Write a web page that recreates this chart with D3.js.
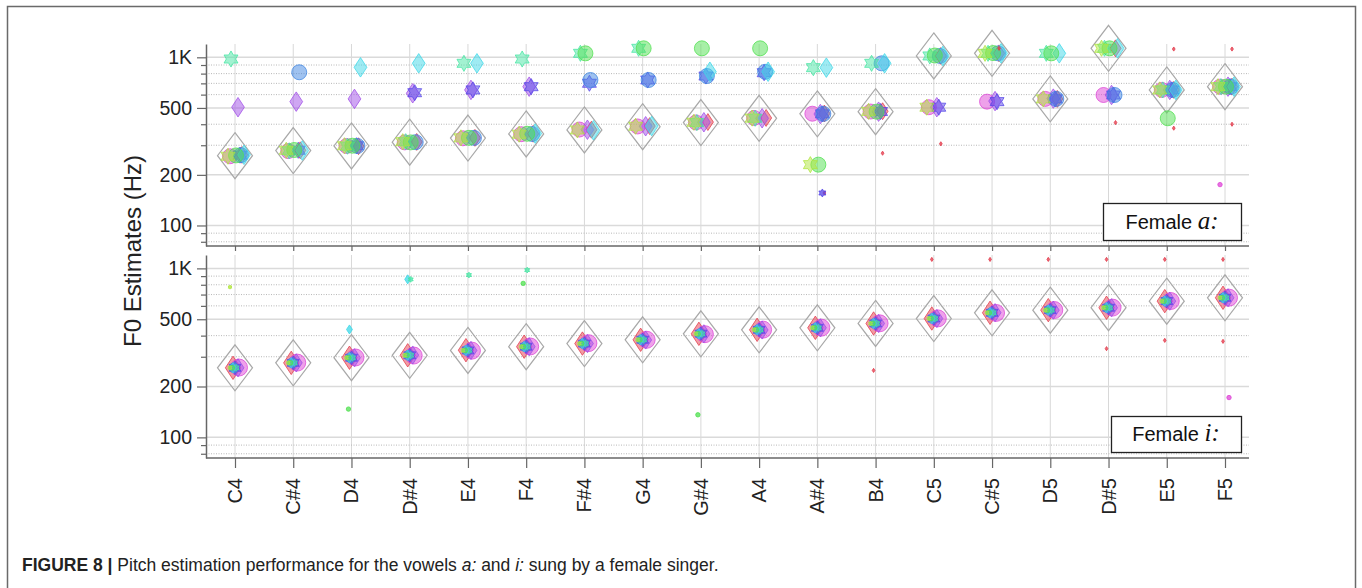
<!DOCTYPE html>
<html>
<head>
<meta charset="utf-8">
<script src="https://d3js.org/d3.v7.min.js"></script>
<style>
body{margin:0;background:#fff;}
svg{display:block;font-family:"Liberation Sans",Arial,sans-serif;}
</style>
</head>
<body>
<svg id="chart" width="1362" height="588"></svg>
<script>
// notes sung, one column each
var notes = ['C4','C#4','D4','D#4','E4','F4','F#4','G4','G#4','A4','A#4','B4','C5','C#5','D5','D#5','E5','F5'];

// reference pitch (grey diamonds), Hz
var refA = [260,279,297,313,331,350,370,387,409,434,461,475,1019,1056,566,1131,640,669];
var refI = [258,276,296,306,327,344,359,378,410,433,445,472,505,546,566,585,640,670];

// estimator names, draw order
var methods = ['red','magenta','purple','violet','blue','cyan','teal','green','yellowgreen'];

// vowel a: estimates per estimator (Hz)
var aRed     = [263,280,296,314,332,351,371,390,412,436,463,478,1019,1056,566,1131,640,669];
var aMagenta = [258,277,297,312,330,349,372,388,410,436,462,476,505,545,566,597,640,669];
var aPurple  = [505,545,566,611,640,669,371,389,411,434,460,475,505,549,568,597,640,669];
var aViolet  = [262,280,298,616,640,669,701,733,774,810,461,476,505,545,566,597,640,669];
var aBlue    = [262,815,297,313,332,350,733,733,774,820,461,921,1019,1056,566,597,640,669];
var aCyan    = [263,279,872,921,921,352,368,390,821,821,868,921,1019,1056,1056,1131,640,669];
var aTeal    = [977,278,296,315,921,977,1056,1131,409,434,868,921,1019,1056,1056,1131,640,669];
var aGreen   = [261,281,298,312,332,351,1056,1131,1131,1131,230,475,1025,1060,1056,1131,434,669];
var aYellow  = [258,280,298,315,332,349,370,389,411,435,230,477,505,1056,566,1131,640,669];

// vowel i: estimates per estimator (Hz)
var iRed     = [258,276,296,306,328,344,359,378,410,433,445,472,505,546,566,585,640,670];
var iMagenta = [259,277,297,305,326,345,361,378,408,434,446,473,506,545,567,586,641,671];
var iPurple  = [258,276,296,307,327,344,359,377,410,432,445,472,505,547,566,585,640,670];
var iViolet  = [258,276,296,306,327,344,359,378,411,433,445,472,505,546,566,585,641,670];
var iBlue    = [258,276,296,306,327,344,359,378,410,433,445,472,505,546,566,585,640,670];
var iCyan    = [258,276,296,306,327,344,359,378,410,433,445,472,505,546,566,585,640,670];
var iTeal    = [258,276,296,306,327,344,359,378,410,433,445,472,505,546,566,585,640,670];
var iGreen   = [258,276,296,306,327,344,359,378,410,433,445,472,505,546,566,585,640,670];
var iYellow  = [258,276,296,306,327,344,359,378,410,433,445,472,505,546,566,585,640,670];

// low confidence estimates [note, estimator, Hz]
var lowA = [['A#4','red',156],['A#4','violet',156],['B4','red',269],['C5','red',306],['C#5','red',1131],
	['D#5','red',409],['E5','red',1120],['E5','red',379],['F5','red',1120],['F5','red',400],['F5','magenta',175]];
var lowI = [['C4','yellowgreen',775],['D4','cyan',435],['D4','green',147],['D#4','cyan',861],['D#4','teal',861],
	['E4','teal',913],['F4','teal',977],['F4','green',815],['G#4','green',136],['B4','red',249],
	['C5','red',1130],['C#5','red',1130],['D5','red',1130],['D#5','red',1130],['E5','red',1130],['F5','red',1130],
	['D#5','red',335],['E5','red',375],['F5','red',370],['F5','magenta',172]];

var majorTicks = [100,200,500,1000];
var minorTicks = [80,90,300,400,600,700,800,900];

var estA = [aRed,aMagenta,aPurple,aViolet,aBlue,aCyan,aTeal,aGreen,aYellow];
var estI = [iRed,iMagenta,iPurple,iViolet,iBlue,iCyan,iTeal,iGreen,iYellow];

// styles
var colors = {red:'#e3394a',magenta:'#dd44d6',purple:'#a04ee8',violet:'#5546e8',blue:'#3f86e2',
	cyan:'#3ed8e8',teal:'#45e6a3',green:'#4fe04f',yellowgreen:'#b0e63c'};
var shapes = {red:'diamond',magenta:'circle',purple:'diamond',violet:'star',blue:'circle',
	cyan:'diamond',teal:'star',green:'circle',yellowgreen:'star'};
var lowSize = {red:1.6,magenta:2.2,purple:3,violet:3.5,blue:3,cyan:3.5,teal:2.5,green:2.2,yellowgreen:1.8};

var svg = d3.select('#chart');
var plotL = 206, plotR = 1249;
var x = d3.scalePoint().domain(notes).range([235,1225]);

function shapePath( type , r ){
	if( type == 'circle' ){
		return 'M'+r+',0A'+r+','+r+' 0 1 1 '+(-r)+',0A'+r+','+r+' 0 1 1 '+r+',0Z';
	}
	if( type == 'diamond' ){
		return 'M0,'+(-1.3*r)+'L'+(0.85*r)+',0L0,'+(1.3*r)+'L'+(-0.85*r)+',0Z';
	}
	// six pointed star
	var R = 1.15*r, pts = [];
	for( var k=0;k<12;k++){
		var a = -Math.PI/2 + k*Math.PI/6, rr = (k%2==0) ? R : R/Math.sqrt(3);
		pts.push([rr*Math.cos(a), rr*Math.sin(a)]);
	}
	return 'M'+pts.map(function(p){return p[0].toFixed(2)+','+p[1].toFixed(2);}).join('L')+'Z';
}

svg.append('rect')
	.attr('x',7.5).attr('y',6.5).attr('width',1348).attr('height',620)
	.attr('fill','none').attr('stroke','#6a6a6a').attr('stroke-width',1.5);

function drawPanel( opt ){
	var g = svg.append('g');
	var y = d3.scaleLog().domain([75.5,1200]).range([opt.bottom, opt.top]);

	// grid
	g.selectAll('.vgrid').data(notes).enter().append('line')
		.attr('x1',function(d){return x(d);}).attr('x2',function(d){return x(d);})
		.attr('y1',opt.top).attr('y2',opt.bottom)
		.attr('stroke','#d8d8d8').attr('stroke-width',1);
	g.selectAll('.hminor').data(minorTicks).enter().append('line')
		.attr('x1',plotL).attr('x2',plotR)
		.attr('y1',function(d){return y(d);}).attr('y2',function(d){return y(d);})
		.attr('stroke','#b8b8b8').attr('stroke-width',1).attr('stroke-dasharray','1,1.5');
	g.selectAll('.hmajor').data(majorTicks).enter().append('line')
		.attr('x1',plotL).attr('x2',plotR)
		.attr('y1',function(d){return y(d);}).attr('y2',function(d){return y(d);})
		.attr('stroke','#dadada').attr('stroke-width',1.5);

	// left axis
	var yAxis = d3.axisLeft(y).tickValues(majorTicks).tickSize(9).tickSizeOuter(0).tickPadding(5)
		.tickFormat(function(d){ return d==1000 ? '1K' : d; });
	var gy = g.append('g').attr('transform','translate('+plotL+',0)').call(yAxis);
	gy.select('.domain').attr('stroke','#666').attr('stroke-width',1.5);
	gy.selectAll('.tick line').attr('stroke','#666').attr('stroke-width',1.2);
	gy.selectAll('.tick text').attr('font-size',19.5).attr('fill','#222')
		.attr('font-family','"Liberation Sans",Arial,sans-serif');
	var gyMinor = g.append('g').attr('transform','translate('+plotL+',0)')
		.call(d3.axisLeft(y).tickValues(minorTicks).tickSize(5).tickSizeOuter(0).tickFormat(''));
	gyMinor.select('.domain').remove();
	gyMinor.selectAll('.tick line').attr('stroke','#666').attr('stroke-width',1.2);

	// bottom axis
	var gx = g.append('g').attr('transform','translate(0,'+opt.bottom+')')
		.call(d3.axisBottom(x).tickSize(opt.tick).tickSizeOuter(0).tickFormat(''));
	gx.select('.domain').remove();
	gx.selectAll('.tick line').attr('stroke','#666').attr('stroke-width',1.2);
	g.append('line').attr('x1',plotL).attr('x2',plotR).attr('y1',opt.bottom).attr('y2',opt.bottom)
		.attr('stroke','#666').attr('stroke-width',1.5);

	// reference diamonds
	g.selectAll('.ref').data(opt.ref).enter().append('path')
		.attr('transform',function(d,i){ return 'translate('+x(notes[i])+','+y(d)+')'; })
		.attr('d','M0,-23L17.5,0L0,23L-17.5,0Z')
		.attr('fill','none').attr('stroke','#a8a8a8').attr('stroke-width',1.2);

	// estimates
	methods.forEach(function(m,mi){
		g.append('g').selectAll('path').data(opt.est[mi]).enter().append('path')
			.attr('transform',function(d,i){ return 'translate('+(x(notes[i])+opt.dx[mi])+','+y(d)+')'; })
			.attr('d',shapePath(shapes[m],opt.size[mi]))
			.attr('fill',colors[m]).attr('fill-opacity',0.5)
			.attr('stroke',colors[m]).attr('stroke-opacity',0.75).attr('stroke-width',1);
	});
	g.append('g').selectAll('path').data(opt.low).enter().append('path')
		.attr('transform',function(d){ return 'translate('+(x(d[0])+opt.dx[methods.indexOf(d[1])])+','+y(d[2])+')'; })
		.attr('d',function(d){ return shapePath(shapes[d[1]],lowSize[d[1]]); })
		.attr('fill',function(d){return colors[d[1]];}).attr('fill-opacity',0.75)
		.attr('stroke',function(d){return colors[d[1]];}).attr('stroke-width',0.8);

	// label box
	var lb = g.append('g');
	lb.append('rect').attr('x',opt.box[0]+0.5).attr('y',opt.box[1]+0.5).attr('width',opt.box[2]).attr('height',opt.box[3])
		.attr('fill','#fff').attr('stroke','#222').attr('stroke-width',1.3);
	var t = lb.append('text').attr('x',opt.box[0]+opt.box[2]/2).attr('y',opt.box[1]+opt.box[3]/2+7)
		.attr('text-anchor','middle').attr('font-size',20).attr('fill','#111');
	t.append('tspan').text('Female ');
	t.append('tspan').attr('font-family','"Liberation Serif","Times New Roman",serif')
		.attr('font-style','italic').attr('font-size',25).text(opt.vowel);
	return g;
}

drawPanel({top:44,bottom:246,tick:5,ref:refA,est:estA,low:lowA,vowel:'a:',
	box:[1103,203,138,37],
	dx:[7,-5,3,5,6,9,-4,1,-7],
	size:[6.5,7.5,7.5,7,7.5,7.5,7,7.5,7]});
drawPanel({top:255,bottom:458,tick:10,ref:refI,est:estI,low:lowI,vowel:'i:',
	box:[1111,416,130,36],
	dx:[-2,4,3,0,-1,-2,1,-3,-5],
	size:[9,8.5,7,6,5,4,3,2.5,2]});

// note labels
svg.append('g').selectAll('text').data(notes).enter().append('text')
	.attr('transform',function(d){ return 'translate('+(x(d)+7)+',478) rotate(-90)'; })
	.attr('text-anchor','end').attr('font-size',20).attr('fill','#222').text(function(d){return d;});

// y title
svg.append('text').attr('transform','translate(141,251) rotate(-90)')
	.attr('text-anchor','middle').attr('font-size',24).attr('fill','#222').text('F0 Estimates (Hz)');

// caption
var cap = svg.append('text').attr('x',22).attr('y',571).attr('font-size',17.5).attr('fill','#222');
cap.append('tspan').attr('font-weight','bold').text('FIGURE 8 | ');
cap.append('tspan').text('Pitch estimation performance for the vowels ');
cap.append('tspan').attr('font-style','italic').text('a:');
cap.append('tspan').text(' and ');
cap.append('tspan').attr('font-style','italic').text('i:');
cap.append('tspan').text(' sung by a female singer.');
</script>
</body>
</html>
